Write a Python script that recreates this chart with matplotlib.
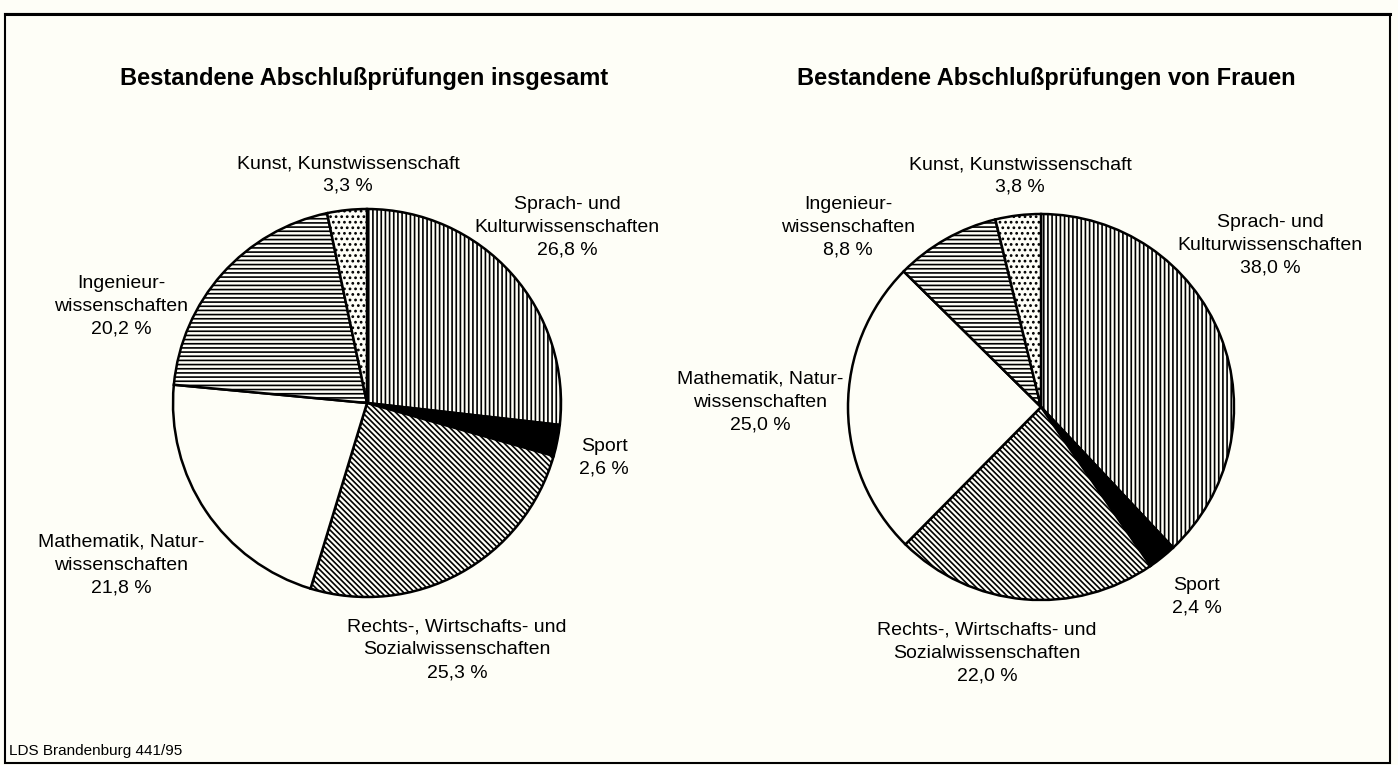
import matplotlib
matplotlib.use("Agg")
import matplotlib.pyplot as plt
from matplotlib.patches import Rectangle

# ------------------------------------------------------------
# DATA
# ------------------------------------------------------------
categories = [
    "Sprach- und\nKulturwissenschaften",
    "Sport",
    "Rechts-, Wirtschafts- und\nSozialwissenschaften",
    "Mathematik, Natur-\nwissenschaften",
    "Ingenieur-\nwissenschaften",
    "Kunst, Kunstwissenschaft",
]
values_total = [26.8, 2.6, 25.3, 21.8, 20.2, 3.3]
values_women = [38.0, 2.4, 22.0, 25.0, 8.8, 3.8]

title_total = "Bestandene Abschlußprüfungen insgesamt"
title_women = "Bestandene Abschlußprüfungen von Frauen"
source_note = "LDS Brandenburg 441/95"

# ------------------------------------------------------------
# STYLE
# ------------------------------------------------------------
bg = "#fefef7"
hatches = ["||||", None, "\\" * 6, None, "----", "..."]
fills = [bg, "black", bg, bg, bg, bg]

plt.rcParams["font.family"] = ["Liberation Sans", "DejaVu Sans"]
plt.rcParams["hatch.linewidth"] = 1.2
plt.rcParams["hatch.color"] = "black"

W, H = 1398, 765

# label anchors in pixel coords (x center, y center), one per category
label_pos_total = [(567, 227), (604, 458), (457, 650), (121, 565), (121, 306), (348, 175)]
label_pos_women = [(1270, 245), (1197, 597), (987, 653), (760, 402), (848, 227), (1020, 176)]


def pct(v):
    return f"{v:.1f}".replace(".", ",") + " %"


def draw_pie(ax, values, center, radius, positions, title, title_x):
    # y axis is flipped (pixel coords), so start at -90 and go "counterclockwise"
    # in data space, which shows up as clockwise from 12 o'clock on screen
    ax.pie(
        values,
        center=center,
        radius=radius,
        startangle=-90,
        counterclock=True,
        colors=fills,
        hatch=hatches,
        wedgeprops=dict(edgecolor="black", linewidth=1.8),
        frame=True,
    )
    for cat, v, (x, y) in zip(categories, values, positions):
        ax.text(x, y, cat + "\n" + pct(v), ha="center", va="center",
                multialignment="center", fontsize=14, linespacing=1.45)
    ax.text(title_x, 78, title, ha="center", va="center",
            fontsize=17, fontweight="bold")


fig = plt.figure(figsize=(W / 100, H / 100), dpi=100, facecolor=bg)
ax = fig.add_axes([0, 0, 1, 1])
ax.set_facecolor(bg)

draw_pie(ax, values_total, (367, 403), 194, label_pos_total, title_total, 364)
draw_pie(ax, values_women, (1041, 407), 193, label_pos_women, title_women, 1046)

# frame around the whole chart
ax.add_patch(Rectangle((5, 14), 1385, 749, fill=False, edgecolor="black", linewidth=1.5))
ax.plot([5, 1390], [14, 14], color="black", linewidth=2.2)

ax.text(9, 751, source_note, ha="left", va="center", fontsize=11)

ax.set_xlim(0, W)
ax.set_ylim(H, 0)
ax.set_aspect("equal")
ax.axis("off")

fig.savefig("out.png", dpi=100, facecolor=bg)
